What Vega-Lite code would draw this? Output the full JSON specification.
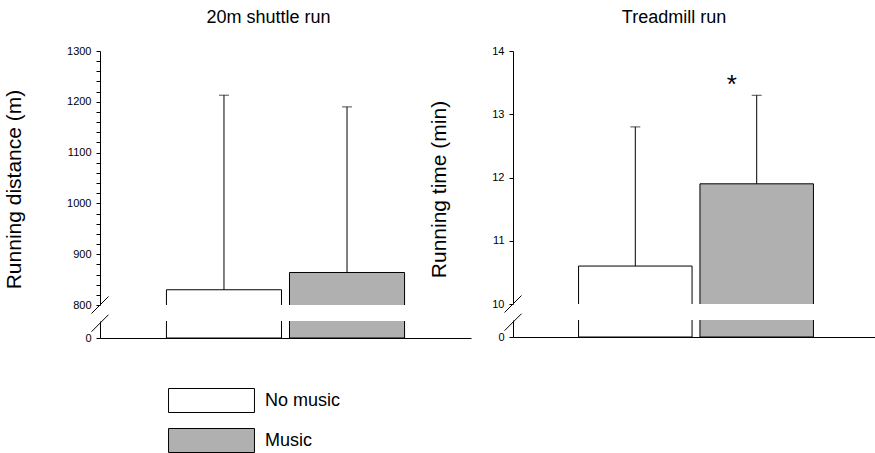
{
  "$schema": "https://vega.github.io/schema/vega-lite/v6.json",
  "padding": {"left": 3, "top": 9, "right": 0, "bottom": 0},
  "config": {
    "font": "Liberation Sans",
    "view": {"stroke": null},
    "axis": {"domainColor": "black", "tickColor": "black", "labelColor": "black", "titleColor": "black", "labelFontSize": 11, "tickSize": 4, "labelPadding": 5, "labelOverlap": false, "labelBound": false, "labelFlush": false, "titleFontWeight": "normal", "titleFontSize": 21, "grid": false, "tickCount": 100},
    "title": {"fontSize": 18, "fontWeight": "normal", "color": "black"}
  },
  "datasets": {
    "runs": [
      {"test": "20m shuttle run", "cond": "No music", "mean": 830, "upper": 1213, "sig": ""},
      {"test": "20m shuttle run", "cond": "Music", "mean": 864, "upper": 1190, "sig": ""},
      {"test": "Treadmill run", "cond": "No music", "mean": 10.6, "upper": 12.8, "sig": ""},
      {"test": "Treadmill run", "cond": "Music", "mean": 11.9, "upper": 13.3, "sig": "*"}
    ]
  },
  "spacing": -43,
  "hconcat": [
    {
      "bounds": "flush",
      "spacing": 16,
      "vconcat": [
        {
          "title": {"text": "20m shuttle run", "dx": -17, "offset": 18},
          "width": 371, "height": 254,
          "data": {"name": "runs"},
          "transform": [{"filter": "datum.test === '20m shuttle run'"}],
          "encoding": {
            "x": {"field": "cond", "type": "nominal", "sort": ["No music", "Music"], "scale": {"paddingInner": 0.065, "paddingOuter": 0.54}, "axis": null}
          },
          "layer": [
            {
              "mark": {"type": "bar", "stroke": "black", "strokeWidth": 1, "clip": true},
              "encoding": {
                "y": {"field": "mean", "type": "quantitative", "scale": {"domain": [800, 1300], "zero": false, "nice": false},
                  "axis": {"title": "Running distance (m)", "values": [800, 820, 840, 860, 880, 900, 920, 940, 960, 980, 1000, 1020, 1040, 1060, 1080, 1100, 1120, 1140, 1160, 1180, 1200, 1220, 1240, 1260, 1280, 1300],
                    "labelExpr": "datum.value % 100 === 0 ? datum.label : ''", "format": "d", "titleY": 138, "titlePadding": 42}},
                "y2": {"datum": 0},
                "fill": {"field": "cond", "type": "nominal", "sort": ["No music", "Music"], "scale": {"domain": ["No music", "Music"], "range": ["white", "#b0b0b0"]},
                  "legend": {"orient": "none", "legendX": 99, "legendY": 337, "title": null, "symbolType": "M-3.58,-1H3.58V1H-3.58Z", "symbolSize": 576, "symbolStrokeColor": "black", "symbolStrokeWidth": 1, "labelFontSize": 18, "labelColor": "black", "labelOffset": 41, "rowPadding": 11}}
              }
            },
            {
              "mark": {"type": "rule", "color": "black", "strokeWidth": 1},
              "encoding": {"y": {"field": "mean", "type": "quantitative"}, "y2": {"field": "upper"}}
            },
            {
              "mark": {"type": "tick", "color": "black", "orient": "horizontal", "size": 10, "thickness": 1},
              "encoding": {"y": {"field": "upper", "type": "quantitative"}}
            },
            {
              "data": {"values": [{"brk": 800}]},
              "mark": {"type": "point", "shape": "M-1,1L1,-1", "size": 289, "stroke": "black", "strokeWidth": 1, "filled": false, "opacity": 1},
              "encoding": {"x": {"value": 0}, "y": {"field": "brk", "type": "quantitative"}}
            }
          ]
        },
        {
          "width": 371, "height": 17,
          "data": {"name": "runs"},
          "transform": [{"filter": "datum.test === '20m shuttle run'"}],
          "encoding": {
            "x": {"field": "cond", "type": "nominal", "sort": ["No music", "Music"], "scale": {"paddingInner": 0.065, "paddingOuter": 0.54}, "axis": {"title": null, "labels": false, "ticks": false, "domainColor": "black"}}
          },
          "layer": [
            {
              "mark": {"type": "bar", "stroke": "black", "strokeWidth": 1, "clip": true},
              "encoding": {
                "y": {"field": "mean", "type": "quantitative", "scale": {"domain": [0, 100], "nice": false}, "axis": {"title": null, "values": [0], "format": "d"}},
                "fill": {"field": "cond", "type": "nominal", "sort": ["No music", "Music"]}
              }
            },
            {
              "data": {"values": [{"brk": 87}]},
              "mark": {"type": "point", "shape": "M-1,1L1,-1", "size": 289, "stroke": "black", "strokeWidth": 1, "filled": false, "opacity": 1},
              "encoding": {"x": {"value": 0}, "y": {"field": "brk", "type": "quantitative"}}
            }
          ]
        }
      ]
    },
    {
      "bounds": "flush",
      "spacing": 16,
      "vconcat": [
        {
          "title": {"text": "Treadmill run", "dx": -22, "offset": 18},
          "width": 366, "height": 253,
          "data": {"name": "runs"},
          "transform": [{"filter": "datum.test === 'Treadmill run'"}],
          "encoding": {
            "x": {"field": "cond", "type": "nominal", "sort": ["No music", "Music"], "scale": {"paddingInner": 0.065, "paddingOuter": 0.54}, "axis": null}
          },
          "layer": [
            {
              "mark": {"type": "bar", "stroke": "black", "strokeWidth": 1, "clip": true},
              "encoding": {
                "y": {"field": "mean", "type": "quantitative", "scale": {"domain": [10, 14], "zero": false, "nice": false},
                  "axis": {"title": "Running time (min)", "values": [10, 11, 12, 13, 14], "format": "d", "titleY": 138, "titlePadding": 42}},
                "y2": {"datum": 0},
                "fill": {"field": "cond", "type": "nominal", "sort": ["No music", "Music"]}
              }
            },
            {
              "mark": {"type": "rule", "color": "black", "strokeWidth": 1},
              "encoding": {"y": {"field": "mean", "type": "quantitative"}, "y2": {"field": "upper"}}
            },
            {
              "mark": {"type": "tick", "color": "black", "orient": "horizontal", "size": 10, "thickness": 1},
              "encoding": {"y": {"field": "upper", "type": "quantitative"}}
            },
            {
              "mark": {"type": "text", "fontSize": 26, "dx": -25, "dy": -10, "baseline": "middle", "color": "black"},
              "encoding": {"y": {"field": "upper", "type": "quantitative"}, "text": {"field": "sig"}}
            },
            {
              "data": {"values": [{"brk": 10}]},
              "mark": {"type": "point", "shape": "M-1,1L1,-1", "size": 289, "stroke": "black", "strokeWidth": 1, "filled": false, "opacity": 1},
              "encoding": {"x": {"value": 0}, "y": {"field": "brk", "type": "quantitative"}}
            }
          ]
        },
        {
          "width": 366, "height": 17,
          "data": {"name": "runs"},
          "transform": [{"filter": "datum.test === 'Treadmill run'"}],
          "encoding": {
            "x": {"field": "cond", "type": "nominal", "sort": ["No music", "Music"], "scale": {"paddingInner": 0.065, "paddingOuter": 0.54}, "axis": {"title": null, "labels": false, "ticks": false, "domainColor": "black"}}
          },
          "layer": [
            {
              "mark": {"type": "bar", "stroke": "black", "strokeWidth": 1, "clip": true},
              "encoding": {
                "y": {"field": "mean", "type": "quantitative", "scale": {"domain": [0, 1], "nice": false}, "axis": {"title": null, "values": [0], "format": "d"}},
                "fill": {"field": "cond", "type": "nominal", "sort": ["No music", "Music"]}
              }
            },
            {
              "data": {"values": [{"brk": 0.87}]},
              "mark": {"type": "point", "shape": "M-1,1L1,-1", "size": 289, "stroke": "black", "strokeWidth": 1, "filled": false, "opacity": 1},
              "encoding": {"x": {"value": 0}, "y": {"field": "brk", "type": "quantitative"}}
            }
          ]
        }
      ]
    }
  ],
  "resolve": {"scale": {"fill": "shared"}}
}
